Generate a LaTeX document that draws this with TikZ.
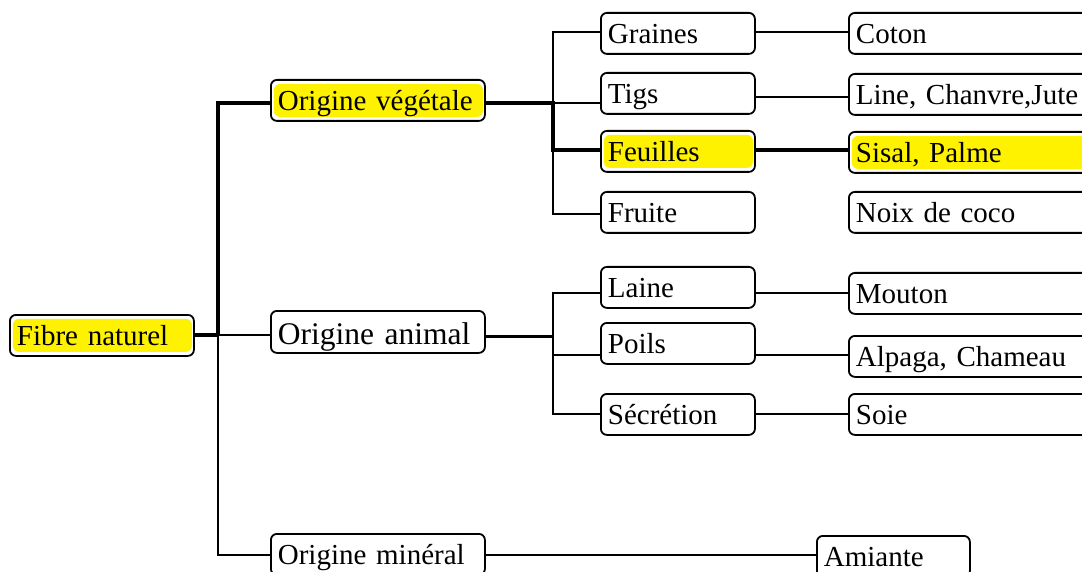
\documentclass[tikz,border=0pt]{standalone}
\usepackage{fontspec}
\setmainfont{Liberation Serif}
\begin{document}
\begin{tikzpicture}[x=1pt,y=-1pt,
  box/.style={draw=black, line width=1.8pt, rounded corners=6pt, fill=white,
    anchor=north west, inner xsep=7pt, inner ysep=0pt, minimum height=41pt,
    text height=31pt, text depth=10pt, align=left,
    font=\fontsize{29}{34}\selectfont},
  hl/.style={path picture={\fill[yellow]
      ([shift={(3pt,-4pt)}]path picture bounding box.north west) rectangle
      ([shift={(-2pt,4pt)}]path picture bounding box.south east);}},
  rootw/.style={text width=170pt},
  leftw/.style={text width=200pt},
  midw/.style={text width=140pt},
  rightw/.style={text width=236pt},
  thn/.style={line width=1.8pt},
  mid/.style={line width=3pt},
  thk/.style={line width=4pt}]
\useasboundingbox (0,0) rectangle (1082,572);
\clip (0,0) rectangle (1082,572);

% root
\node[box, rootw, hl] (fibre) at (9,314) {Fibre naturel};

% first level
\node[box, leftw, hl] (veg) at (270,79) {Origine végétale};
\node[box, leftw, text height=34pt, text depth=8pt, minimum height=42pt,
      font=\fontsize{31.5}{36}\selectfont] (anim) at (270,310) {Origine animal};
\node[box, leftw] (min) at (270,533) {Origine minéral};

% plant fibres
\node[box, midw] (gra) at (600,12) {Graines};
\node[box, midw] (tig) at (600,72) {Tigs};
\node[box, midw, hl] (feu) at (600,130) {Feuilles};
\node[box, midw] (fru) at (600,191) {Fruite};
\node[box, rightw] (cot) at (848,12) {Coton};
\node[box, rightw] (lin) at (848,73) {Line, Chanvre,Jute};
\node[box, rightw, hl] (sis) at (848,131) {Sisal, Palme};
\node[box, rightw] (noi) at (848,191) {Noix de coco};

% animal fibres
\node[box, midw] (lai) at (600,266) {Laine};
\node[box, midw] (poi) at (600,322) {Poils};
\node[box, midw] (sec) at (600,393) {Sécrétion};
\node[box, rightw] (mou) at (848,272) {Mouton};
\node[box, rightw] (alp) at (848,335) {Alpaga, Chameau};
\node[box, rightw] (soi) at (848,393) {Soie};

% mineral fibre
\node[box, text width=139pt] (ami) at (816,535) {Amiante};

% junction points
\coordinate (tv) at (218,103);
\coordinate (tj) at (218,335);
\coordinate (tm) at (218,555);
\coordinate (vg) at (553,32);
\coordinate (vb) at (553,103);
\coordinate (vf) at (553,150);
\coordinate (vr) at (553,214);
\coordinate (r2) at (800,97);
\coordinate (aj) at (553,336);
\coordinate (al) at (553,293);
\coordinate (ap) at (553,355);
\coordinate (as) at (553,414);

% trunk
\draw[thk] (fibre.east |- tj) -- (tj);
\draw[thk] (tj) -- (tv) -- (veg.west |- tv);
\draw[thn] (tj) -- (anim.west |- tj);
\draw[thn] (tj) -- (tm) -- (min.west |- tm);

% plant branch
\draw[thn] (gra.west |- vg) -- (vg) -- (vr) -- (fru.west |- vr);
\draw[thn] (vb) -- (tig.west |- vb);
\draw[thk] (veg.east |- vb) -- (vb) -- (vf) -- (feu.west |- vf);
\draw[thn] (gra.east |- vg) -- (cot.west |- vg);
\draw[thn] (tig.east |- r2) -- (lin.west |- r2);
\draw[thk] (feu.east |- vf) -- (sis.west |- vf);

% animal branch
\draw[mid] (anim.east |- aj) -- (aj);
\draw[thn] (lai.west |- al) -- (al) -- (as) -- (sec.west |- as);
\draw[thn] (ap) -- (poi.west |- ap);
\draw[thn] (lai.east |- al) -- (mou.west |- al);
\draw[thn] (poi.east |- ap) -- (alp.west |- ap);
\draw[thn] (sec.east |- as) -- (soi.west |- as);

% mineral branch
\draw[thn] (min.east |- tm) -- (ami.west |- tm);
\end{tikzpicture}
\end{document}
